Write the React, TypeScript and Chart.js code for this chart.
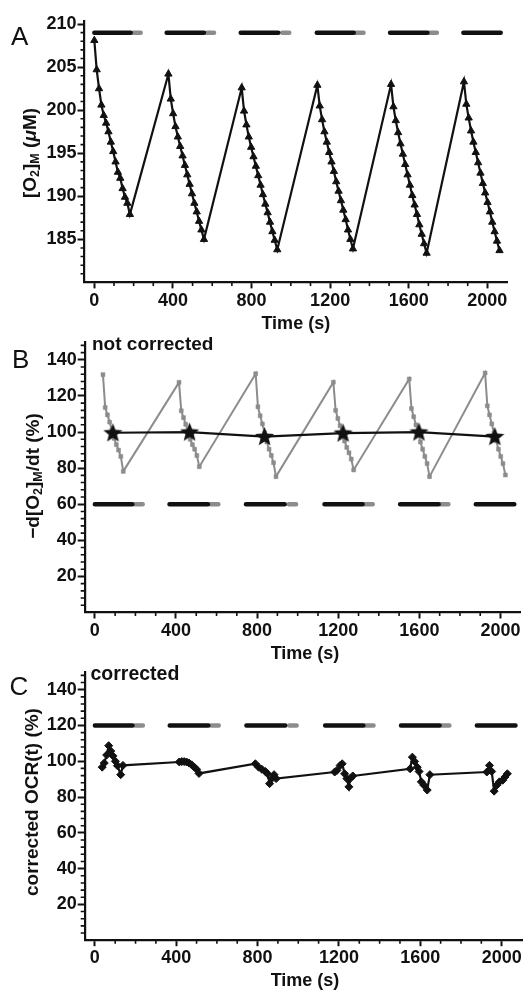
import React, { useEffect, useRef } from 'react';
import { Chart, registerables } from 'chart.js';

Chart.register(...registerables);

const FONT = '"Liberation Sans", Arial, Helvetica, sans-serif';
const INK = '#111111';
const GREY = '#8c8c8c';

// ---------- shared x axis ----------
const xMin = -50;
const xMax = 2100;
const xMajorTicks = [0, 400, 800, 1200, 1600, 2000];
const xMinorTicks = [100, 200, 300, 500, 600, 700, 900, 1000, 1100, 1300, 1400, 1500, 1700, 1800, 1900];

// ---------- protocol bars (black = closed, grey = re-oxygenation) ----------
const barBlackStart = [0, 368, 745, 1132, 1505, 1878];
const barBlackEnd = [185, 558, 936, 1320, 1695, 2068];
const barGreyStart = [198, 572, 956, 1330, 1706];
const barGreyEnd = [236, 609, 992, 1370, 1743];
const barLevelA = 209;
const barLevelB = 60;
const barLevelC = 120;

// ---------- panel A: [O2]M (µM) ----------
const yTicksA = [185, 190, 195, 200, 205, 210];
const yMinorA = [181, 182, 183, 184, 186, 187, 188, 189, 191, 192, 193, 194, 196, 197, 198, 199, 201, 202, 203, 204, 206, 207, 208, 209];
const cycleStartA = [0, 377, 750, 1135, 1510, 1881];
const sampleOffsetA = [0, 12, 24, 36, 48, 60, 72, 84, 96, 108, 120, 132, 144, 156, 168, 181];
const o2Cycle1 = [208.1, 204.7, 202.5, 200.6, 199.4, 198.5, 197.5, 196.3, 195.2, 194.0, 192.8, 192.1, 190.9, 189.9, 189.2, 187.9];
const o2Cycle2 = [204.2, 201.3, 199.6, 198.1, 196.9, 195.8, 194.7, 193.6, 192.5, 191.4, 190.3, 189.2, 188.2, 187.1, 186.1, 185.0];
const o2Cycle3 = [202.6, 199.9, 198.3, 196.9, 195.7, 194.6, 193.5, 192.4, 191.3, 190.2, 189.1, 188.1, 187.0, 185.9, 184.9, 183.8];
const o2Cycle4 = [202.9, 200.5, 198.9, 197.5, 196.3, 195.1, 194.0, 192.9, 191.7, 190.6, 189.5, 188.4, 187.3, 186.1, 185.0, 183.9];
const o2Cycle5 = [203.0, 200.4, 198.8, 197.4, 196.1, 194.9, 193.7, 192.5, 191.3, 190.1, 189.0, 187.9, 186.7, 185.6, 184.5, 183.4];
const o2Cycle6 = [203.3, 200.7, 199.1, 197.6, 196.3, 195.1, 193.9, 192.7, 191.5, 190.4, 189.3, 188.2, 187.0, 185.9, 184.8, 183.7];
const o2Cycles = [o2Cycle1, o2Cycle2, o2Cycle3, o2Cycle4, o2Cycle5, o2Cycle6];

// ---------- panel B: -d[O2]M/dt (%) not corrected ----------
const yTicksBC = [20, 40, 60, 80, 100, 120, 140];
const yMinorBC = [4, 8, 12, 16, 24, 28, 32, 36, 44, 48, 52, 56, 64, 68, 72, 76, 84, 88, 92, 96, 104, 108, 112, 116, 124, 128, 132, 136, 144, 148];
const cycleStartB = [40, 415, 793, 1176, 1550, 1924];
const sampleOffsetB = [0, 11, 22, 33, 44, 55, 66, 77, 88, 100];
const rateCycle1 = [131.8, 113.6, 109.5, 105.5, 101.0, 96.5, 93.0, 90.0, 86.5, 78.2];
const rateCycle2 = [127.5, 111.8, 108.0, 104.3, 100.0, 96.0, 93.0, 90.5, 87.0, 80.8];
const rateCycle3 = [132.3, 114.0, 109.0, 104.5, 99.5, 94.5, 90.5, 87.0, 83.0, 75.3];
const rateCycle4 = [127.6, 112.0, 107.5, 103.5, 99.0, 95.0, 91.5, 88.5, 85.0, 79.0];
const rateCycle5 = [129.4, 113.0, 108.5, 104.0, 99.5, 94.5, 90.5, 86.5, 82.5, 75.3];
const rateCycle6 = [132.7, 114.5, 109.5, 104.5, 99.5, 95.0, 90.5, 86.5, 82.5, 76.2];
const rateCycles = [rateCycle1, rateCycle2, rateCycle3, rateCycle4, rateCycle5, rateCycle6];
const starTimes = [89, 467, 837, 1224, 1598, 1972];
const starValues = [99.6, 100.0, 97.5, 99.4, 100.0, 97.5];

// ---------- panel C: corrected OCR(t) (%) ----------
const corrTime1 = [36, 46, 58, 68, 78, 89, 101, 111, 127, 138];
const corrValue1 = [96.7, 99.0, 103.5, 108.7, 105.7, 103.0, 100.0, 97.5, 92.5, 97.7];
const corrTime2 = [415, 427, 439, 451, 463, 476, 488, 500, 512];
const corrValue2 = [99.6, 99.8, 99.8, 99.6, 99.0, 98.0, 96.8, 95.5, 93.2];
const corrTime3 = [789, 805, 821, 838, 849, 859, 870, 881, 891];
const corrValue3 = [98.6, 96.7, 95.5, 94.3, 93.0, 87.5, 90.3, 92.5, 90.3];
const corrTime4 = [1179, 1190, 1206, 1216, 1228, 1239, 1249, 1255, 1268];
const corrValue4 = [94.0, 94.9, 97.7, 98.6, 93.0, 90.3, 85.7, 90.3, 91.8];
const corrTime5 = [1550, 1561, 1572, 1585, 1594, 1605, 1618, 1634, 1647];
const corrValue5 = [95.8, 102.3, 99.9, 96.7, 94.3, 88.5, 86.6, 83.9, 92.5];
const corrTime6 = [1927, 1940, 1951, 1963, 1976, 1989, 2005, 2016, 2028];
const corrValue6 = [94.0, 97.7, 94.3, 83.3, 86.6, 88.5, 89.4, 91.2, 93.0];
const corrTimes = [corrTime1, corrTime2, corrTime3, corrTime4, corrTime5, corrTime6];
const corrValues = [corrValue1, corrValue2, corrValue3, corrValue4, corrValue5, corrValue6];

// ---------- helpers ----------
type Pt = { x: number; y: number | null };

function cyclePoints(starts: number[], offsets: number[], cycles: number[][]): Pt[] {
  const pts: Pt[] = [];
  cycles.forEach((vals, c) => {
    vals.forEach((v, i) => pts.push({ x: starts[c] + offsets[i], y: v }));
  });
  return pts;
}

function pairedPoints(times: number[][], values: number[][]): Pt[] {
  const pts: Pt[] = [];
  times.forEach((ts, c) => ts.forEach((t, i) => pts.push({ x: t, y: values[c][i] })));
  return pts;
}

function barPoints(starts: number[], ends: number[], level: number): Pt[] {
  const pts: Pt[] = [];
  starts.forEach((s, i) => {
    pts.push({ x: s, y: level }, { x: ends[i], y: level }, { x: ends[i], y: null });
  });
  return pts;
}

function barDatasets(level: number) {
  return [
    {
      data: barPoints(barBlackStart, barBlackEnd, level),
      borderColor: INK,
      borderWidth: 4.5,
      borderCapStyle: 'round',
      pointRadius: 0,
      spanGaps: false,
      clip: false,
    },
    {
      data: barPoints(barGreyStart, barGreyEnd, level),
      borderColor: GREY,
      borderWidth: 4.5,
      borderCapStyle: 'round',
      pointRadius: 0,
      spanGaps: false,
      clip: false,
    },
  ];
}

function makeStar(size: number): HTMLCanvasElement {
  const c = document.createElement('canvas');
  c.width = size;
  c.height = size;
  const g = c.getContext('2d')!;
  const cx = size / 2;
  const cy = size / 2 + 0.6;
  const R = size / 2 - 0.5;
  const r = R * 0.43;
  g.beginPath();
  for (let i = 0; i < 10; i++) {
    const a = -Math.PI / 2 + (i * Math.PI) / 5;
    const rad = i % 2 === 0 ? R : r;
    const px = cx + Math.cos(a) * rad;
    const py = cy + Math.sin(a) * rad;
    if (i === 0) g.moveTo(px, py);
    else g.lineTo(px, py);
  }
  g.closePath();
  g.fillStyle = INK;
  g.fill();
  return c;
}

const minorTickPlugin = {
  id: 'minorTicks',
  afterDraw(chart: any, _args: any, opts: any) {
    const ctx = chart.ctx;
    const xs = chart.scales.x;
    const ys = chart.scales.y;
    ctx.save();
    ctx.strokeStyle = INK;
    ctx.lineWidth = 1.6;
    ctx.beginPath();
    (opts.x || []).forEach((v: number) => {
      const px = xs.getPixelForValue(v);
      ctx.moveTo(px, xs.top);
      ctx.lineTo(px, xs.top + opts.xLen);
    });
    (opts.y || []).forEach((v: number) => {
      const py = ys.getPixelForValue(v);
      ctx.moveTo(ys.right, py);
      ctx.lineTo(ys.right - opts.yLen, py);
    });
    ctx.stroke();
    ctx.restore();
  },
};

type PanelCfg = {
  datasets: any[];
  yMin: number;
  yMax: number;
  yTicks: number[];
  yMinor: number[];
  plotLeft: number;
  plotRight: number;
  plotTop: number;
  plotBottom: number;
  width: number;
  height: number;
};

function buildChart(canvas: HTMLCanvasElement, p: PanelCfg) {
  const tickFont = { family: FONT, size: 18, weight: 'bold' as const };
  return new Chart(canvas, {
    type: 'line',
    data: { datasets: p.datasets },
    plugins: [minorTickPlugin],
    options: {
      responsive: false,
      animation: false,
      events: [],
      layout: { padding: { left: 0, right: p.width - p.plotRight, top: p.plotTop, bottom: 0 } },
      elements: { line: { tension: 0 } },
      plugins: {
        legend: { display: false },
        tooltip: { enabled: false },
        minorTicks: { x: xMinorTicks, y: p.yMinor, xLen: 3.5, yLen: 4 },
      } as any,
      scales: {
        x: {
          type: 'linear',
          min: xMin,
          max: xMax,
          afterBuildTicks: (s: any) => {
            s.ticks = xMajorTicks.map((v) => ({ value: v }));
          },
          afterFit: (s: any) => {
            s.height = p.height - p.plotBottom;
          },
          grid: {
            display: true,
            drawOnChartArea: false,
            drawTicks: true,
            tickLength: 6,
            tickWidth: 2,
            tickColor: INK,
            color: INK,
          },
          border: { display: true, color: INK, width: 2.2 },
          ticks: {
            font: tickFont,
            color: INK,
            padding: 1.5,
            maxRotation: 0,
            autoSkip: false,
            callback: (v: any) => String(v),
          },
        },
        y: {
          type: 'linear',
          min: p.yMin,
          max: p.yMax,
          afterBuildTicks: (s: any) => {
            s.ticks = p.yTicks.map((v) => ({ value: v }));
          },
          afterFit: (s: any) => {
            s.width = p.plotLeft;
          },
          grid: {
            display: true,
            drawOnChartArea: false,
            drawTicks: true,
            tickLength: 7,
            tickWidth: 2,
            tickColor: INK,
            color: INK,
          },
          border: { display: true, color: INK, width: 2.2 },
          ticks: {
            font: tickFont,
            color: INK,
            padding: 1,
            autoSkip: false,
            callback: (v: any) => String(v),
          },
        },
      },
    } as any,
  });
}

const W = 527;

function useChart(ref: React.RefObject<HTMLCanvasElement>, make: () => PanelCfg) {
  useEffect(() => {
    if (!ref.current) return;
    const chart = buildChart(ref.current, make());
    return () => chart.destroy();
  }, []);
}

const txt: React.CSSProperties = {
  position: 'absolute',
  fontFamily: FONT,
  color: INK,
  whiteSpace: 'nowrap',
  margin: 0,
};

const subStyle: React.CSSProperties = { fontSize: '0.66em', verticalAlign: '-0.28em', lineHeight: 0 };

function YTitle({ cx, cy, children }: { cx: number; cy: number; children: React.ReactNode }) {
  return (
    <div
      style={{
        ...txt,
        left: cx,
        top: cy,
        fontSize: 19,
        lineHeight: '19px',
        fontWeight: 'bold',
        transform: 'translate(-50%, -50%) rotate(-90deg)',
      }}
    >
      {children}
    </div>
  );
}

export default function App() {
  const refA = useRef<HTMLCanvasElement>(null);
  const refB = useRef<HTMLCanvasElement>(null);
  const refC = useRef<HTMLCanvasElement>(null);

  const topA = 0, hA = 340;
  const topB = 330, hB = 340;
  const topC = 660, hC = 331;

  useChart(refA, () => ({
    datasets: [
      {
        data: cyclePoints(cycleStartA, sampleOffsetA, o2Cycles),
        borderColor: INK,
        borderWidth: 2.2,
        pointStyle: 'triangle',
        pointRadius: 4.2,
        pointBackgroundColor: INK,
        pointBorderColor: INK,
        pointBorderWidth: 1,
        clip: false,
      },
      ...barDatasets(barLevelA),
    ],
    yMin: 180,
    yMax: 210.4,
    yTicks: yTicksA,
    yMinor: yMinorA,
    plotLeft: 84.5,
    plotRight: 507,
    plotTop: 20.6 - topA,
    plotBottom: 282.4 - topA,
    width: W,
    height: hA,
  }));

  useChart(refB, () => ({
    datasets: [
      {
        data: starTimes.map((t, i) => ({ x: t, y: starValues[i] })),
        borderColor: INK,
        borderWidth: 2.2,
        pointStyle: makeStar(21),
        clip: false,
      },
      {
        data: cyclePoints(cycleStartB, sampleOffsetB, rateCycles),
        borderColor: GREY,
        borderWidth: 2,
        pointStyle: 'rect',
        pointRadius: 2.8,
        pointBackgroundColor: GREY,
        pointBorderColor: GREY,
        pointBorderWidth: 0.5,
        clip: false,
      },
      ...barDatasets(barLevelB),
    ],
    yMin: 0,
    yMax: 150,
    yTicks: yTicksBC,
    yMinor: yMinorBC,
    plotLeft: 84.7,
    plotRight: 525.5,
    plotTop: 339.5 - topB,
    plotBottom: 612.5 - topB,
    width: W,
    height: hB,
  }));

  useChart(refC, () => ({
    datasets: [
      {
        data: pairedPoints(corrTimes, corrValues),
        borderColor: INK,
        borderWidth: 2.2,
        pointStyle: 'rectRot',
        pointRadius: 4,
        pointBackgroundColor: INK,
        pointBorderColor: INK,
        pointBorderWidth: 1,
        clip: false,
      },
      ...barDatasets(barLevelC),
    ],
    yMin: 0,
    yMax: 150,
    yTicks: yTicksBC,
    yMinor: yMinorBC,
    plotLeft: 84.7,
    plotRight: 525.5,
    plotTop: 668.5 - topC,
    plotBottom: 940.2 - topC,
    width: W,
    height: hC,
  }));

  const canvasStyle = (top: number, h: number): React.CSSProperties => ({
    position: 'absolute',
    left: 0,
    top,
    width: W,
    height: h,
  });

  const letter = (l: string, left: number, top: number) => (
    <div style={{ ...txt, left, top, fontSize: 26, lineHeight: '26px', fontWeight: 'normal' }}>{l}</div>
  );

  const timeTitle = (cx: number, baseline: number) => (
    <div
      style={{
        ...txt,
        left: cx,
        top: baseline - 0.8465 * 18,
        fontSize: 18,
        lineHeight: '18px',
        fontWeight: 'bold',
        transform: 'translateX(-50%)',
      }}
    >
      Time (s)
    </div>
  );

  return (
    <div style={{ position: 'absolute', left: 0, top: 0, width: W, height: 991, background: '#fff', overflow: 'hidden' }}>
      <canvas ref={refA} width={W} height={hA} style={canvasStyle(topA, hA)} />
      <canvas ref={refB} width={W} height={hB} style={canvasStyle(topB, hB)} />
      <canvas ref={refC} width={W} height={hC} style={canvasStyle(topC, hC)} />

      {letter('A', 11, 22.5)}
      {letter('B', 12, 345.5)}
      {letter('C', 9.5, 673)}

      <YTitle cx={28.5} cy={153}>
        [O<span style={subStyle}>2</span>]<span style={subStyle}>M</span> (<i>μ</i>M)
      </YTitle>
      <YTitle cx={32} cy={476}>
        −d[O<span style={subStyle}>2</span>]<span style={subStyle}>M</span>/dt (%)
      </YTitle>
      <YTitle cx={31} cy={802}>
        corrected OCR(t) (%)
      </YTitle>

      <div style={{ ...txt, left: 92, top: 350 - 0.8465 * 19, fontSize: 19, lineHeight: '19px', fontWeight: 'bold' }}>
        not corrected
      </div>
      <div style={{ ...txt, left: 90.5, top: 680.3 - 0.8465 * 19.5, fontSize: 19.5, lineHeight: '19.5px', fontWeight: 'bold' }}>
        corrected
      </div>

      {timeTitle(295.8, 329.5)}
      {timeTitle(305, 659.5)}
      {timeTitle(305, 986.7)}
    </div>
  );
}
